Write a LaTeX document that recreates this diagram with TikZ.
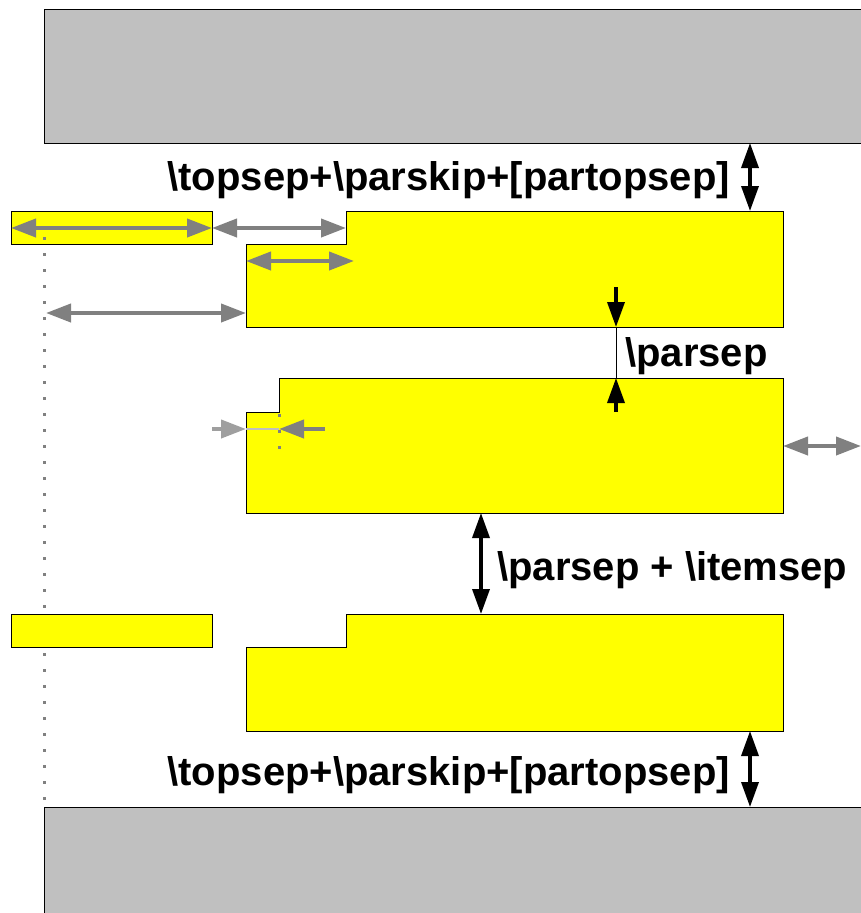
\documentclass[tikz,border=0pt]{standalone}
\usepackage{fontspec}
\setmainfont{Liberation Sans}
\usetikzlibrary{arrows.meta}

\definecolor{paryellow}{RGB}{255,255,0}
\definecolor{pagegray}{RGB}{192,192,192}
\tikzset{
  page/.style={draw=black, fill=pagegray, line width=1pt},
  para/.style={draw=black, fill=paryellow, line width=1pt},
  garrow/.style={draw=gray, line width=4pt, {Triangle[length=25pt,width=18pt]}-{Triangle[length=25pt,width=18pt]}},
  larrow/.style={draw=gray!75, line width=4pt, -{Triangle[length=25pt,width=18pt]}},
  barrow/.style={draw=black, line width=3.5pt, {Triangle[length=25pt,width=17pt]}-{Triangle[length=25pt,width=17pt]}},
  sarrow/.style={draw=black, line width=3.5pt, -{Triangle[length=25pt,width=17pt]}},
  guide/.style={draw=gray, line width=3pt, dash pattern=on 3pt off 13pt},
  lbl/.style={font=\fontsize{40}{48}\selectfont\bfseries, inner sep=0pt}
}

\begin{document}
\begin{tikzpicture}[x=1pt,y=-1pt]
   \useasboundingbox (0,0) rectangle (861,913);
   \clip (0,0) rectangle (861,913);
   % pages above and below the list
   \draw[page] (44,9) rectangle (880,143);
   \draw[page] (44,807) rectangle (880,930);
   % first item
   \draw[para] (11,211) rectangle (212,244);
   \draw[para] (346,211) -- (783,211) -- (783,327) -- (246,327) -- (246,244) -- (346,244) -- cycle;
   % left margin guide
   \draw[guide] (44,237) -- (44,805);
   % second paragraph of the item
   \draw[para] (279,378) -- (783,378) -- (783,513) -- (246,513) -- (246,412) -- (279,412) -- cycle;
   \draw[guide] (279,414) -- (279,462);
   % second item
   \draw[para] (11,614) rectangle (212,647);
   \draw[para] (346,614) -- (783,614) -- (783,731) -- (246,731) -- (246,647) -- (346,647) -- cycle;
   % widths
   \coordinate (lab1) at (11,228);
   \coordinate (lab2) at (212,228);
   \coordinate (it1) at (346,228);
   \coordinate (ind1) at (246,261);
   \coordinate (ind2) at (354,261);
   \coordinate (mar1) at (46,313);
   \coordinate (mar2) at (246,313);
   \coordinate (rm1) at (783,446);
   \coordinate (rm2) at (861,446);
   \draw[garrow] (lab1) -- (lab2);
   \draw[garrow] (lab2) -- (it1);
   \draw[garrow] (ind1) -- (ind2);
   \draw[garrow] (mar1) -- (mar2);
   \draw[garrow] (rm1) -- (rm2);
   % paragraph indent of the second paragraph
   \coordinate (pi0) at (212,429);
   \coordinate (pi1) at (246,429);
   \coordinate (pi2) at (279,429);
   \coordinate (pi3) at (325,429);
   \draw[larrow] (pi0) -- (pi1);
   \draw[gray!50, line width=1.5pt] (pi1) -- (pi2);
   \draw[draw=gray, line width=4pt, -{Triangle[length=25pt,width=18pt]}] (pi3) -- (pi2);
   % vertical spaces
   \coordinate (t1) at (750,143);
   \coordinate (t2) at (750,211);
   \draw[barrow] (t1) -- (t2);
   \node[lbl, anchor=base east] (topsepa) at (730,190) {\textbackslash topsep+\textbackslash parskip+[partopsep]};
   \coordinate (ps0) at (616,287);
   \coordinate (ps1) at (616,327);
   \coordinate (ps2) at (616,378);
   \coordinate (ps3) at (616,412);
   \draw[sarrow] (ps0) -- (ps1);
   \draw[sarrow] (ps3) -- (ps2);
   \draw[black, line width=1pt] (ps1) -- (ps2);
   \node[lbl, anchor=base west] (parsep) at (625,366) {\textbackslash parsep};
   \coordinate (is1) at (481,513);
   \coordinate (is2) at (481,614);
   \draw[barrow] (is1) -- (is2);
   \node[lbl, anchor=base west] (itemsep) at (497,580) {\textbackslash parsep + \textbackslash itemsep};
   \coordinate (b1) at (750,731);
   \coordinate (b2) at (750,807);
   \draw[barrow] (b1) -- (b2);
   \node[lbl, anchor=base east] (topsepb) at (730,785) {\textbackslash topsep+\textbackslash parskip+[partopsep]};
\end{tikzpicture}
\end{document}
